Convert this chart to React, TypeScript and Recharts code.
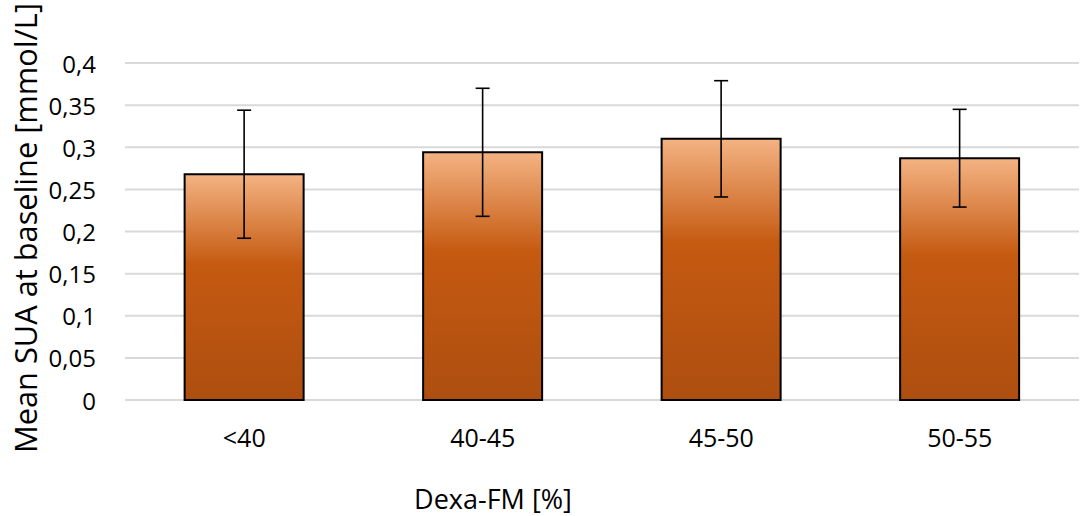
import React from "react";
import { BarChart, Bar, XAxis, YAxis, CartesianGrid, ErrorBar } from "recharts";

const categories = ["<40", "40-45", "45-50", "50-55"];
const means = [0.268, 0.294, 0.31, 0.287];
const errors = [0.076, 0.076, 0.069, 0.058];
const yTicks = [0, 0.05, 0.1, 0.15, 0.2, 0.25, 0.3, 0.35, 0.4];

const data = categories.map((name, i) => ({ name, mean: means[i], err: errors[i] }));

const FONT = "'Open Sans', sans-serif";

const fmt = (v: number) => String(v).replace(".", ",");

function YTick({ y, payload }: any) {
  return (
    <text x={96} y={y} textAnchor="end" dominantBaseline="central" fontSize={24} fontFamily={FONT} fill="#000">
      {fmt(payload.value)}
    </text>
  );
}

function XTick({ x, payload }: any) {
  return (
    <text x={x} y={447} textAnchor="middle" fontSize={25} fontFamily={FONT} fill="#000">
      {payload.value}
    </text>
  );
}

export default function App() {
  return (
    <div style={{ position: "absolute", left: 0, top: 0, background: "#fff" }}>
      <BarChart
        width={1084}
        height={516}
        data={data}
        margin={{ top: 63, right: 5, left: 0, bottom: 0 }}
        barCategoryGap="25%"
      >
        <defs>
          <linearGradient id="barFill" x1="0" y1="0" x2="0" y2="1">
            <stop offset="0%" stopColor="#f4b383" />
            <stop offset="40%" stopColor="#c55a11" />
            <stop offset="100%" stopColor="#ad4e10" />
          </linearGradient>
        </defs>
        <CartesianGrid vertical={false} stroke="#d9d9d9" strokeWidth={2} />
        <XAxis
          dataKey="name"
          axisLine={false}
          tickLine={false}
          height={116}
          tick={<XTick />}
          interval={0}
        />
        <YAxis
          width={125}
          domain={[0, 0.4]}
          ticks={yTicks}
          axisLine={false}
          tickLine={false}
          tick={<YTick />}
        />
        <Bar dataKey="mean" fill="url(#barFill)" stroke="#000" strokeWidth={2} isAnimationActive={false}>
          <ErrorBar dataKey="err" width={7} stroke="#000" strokeWidth={1.6} isAnimationActive={false} />
        </Bar>
        <text x={493} y={509} textAnchor="middle" fontSize={27} fontFamily={FONT} fill="#000">
          Dexa-FM [%]
        </text>
        <text
          x={37}
          y={228}
          transform="rotate(-90 37 228)"
          textAnchor="middle"
          fontSize={31}
          fontFamily={FONT}
          fill="#000"
          textLength={450}
          lengthAdjust="spacingAndGlyphs"
        >
          Mean SUA at baseline [mmol/L]
        </text>
      </BarChart>
    </div>
  );
}
